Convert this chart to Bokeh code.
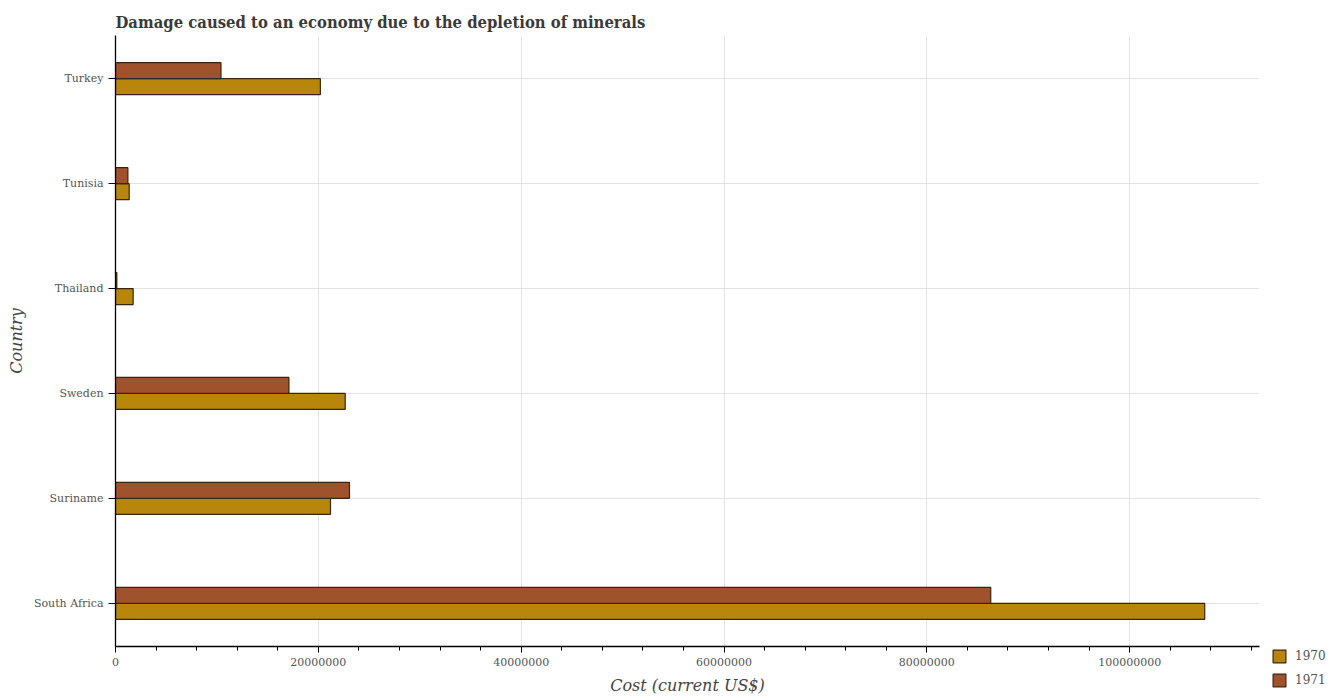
import numpy as np
from bokeh.plotting import figure
from bokeh.models import (ColumnDataSource, Range1d, FixedTicker, SingleIntervalTicker,
                          BasicTickFormatter, Legend, LegendItem)
from bokeh.transform import dodge
from bokeh.embed import file_html
from bokeh.resources import INLINE

# ---- data ----
countries = ["South Africa", "Suriname", "Sweden", "Thailand", "Tunisia", "Turkey"]
cost_1970 = [107.4e6, 21.2e6, 22.65e6, 1.74e6, 1.35e6, 20.2e6]
cost_1971 = [86.3e6, 23.07e6, 17.1e6, 0.13e6, 1.22e6, 10.4e6]
series_names = ["1970", "1971"]
series_colors = ["#b8860b", "#a0522d"]

src = ColumnDataSource(dict(idx=list(range(len(countries))), country=countries,
                            v1970=cost_1970, v1971=cost_1971))

FONT = "DejaVu Serif"

p = figure(frame_width=1144, frame_height=611, output_backend="svg", toolbar_location=None,
           x_range=Range1d(0, 112.8e6), y_range=Range1d(-0.412, len(countries) - 1 + 0.412),
           min_border_left=115, min_border_right=60, min_border_top=35, min_border_bottom=52)

bar_h = 0.1525
r70 = p.hbar(y=dodge("idx", -bar_h / 2, range=p.y_range), right="v1970", left=0, height=bar_h,
             source=src, fill_color=series_colors[0], line_color="#3a2610", line_width=1.2)
r71 = p.hbar(y=dodge("idx", bar_h / 2, range=p.y_range), right="v1971", left=0, height=bar_h,
             source=src, fill_color=series_colors[1], line_color="#3a2610", line_width=1.2)

# title
p.title.text = "Damage caused to an economy due to the depletion of minerals"
p.title.text_font = "DejaVu Serif Condensed"
p.title.text_font_style = "bold"
p.title.text_font_size = "16.5px"
p.title.text_color = "#3a3a3a"
p.title.offset = 0
p.title.standoff = 7

p.outline_line_color = None
p.background_fill_color = "white"

# x axis
xa = p.xaxis[0]
xa.ticker = SingleIntervalTicker(interval=20e6, num_minor_ticks=5)
xa.formatter = BasicTickFormatter(use_scientific=False)
xa.axis_label = "Cost (current US$)"
xa.axis_label_text_font = FONT
xa.axis_label_text_font_style = "italic"
xa.axis_label_text_font_size = "16px"
xa.axis_label_text_color = "#444444"
xa.axis_label_standoff = 7
xa.major_label_text_font = FONT
xa.major_label_text_font_size = "11px"
xa.major_label_text_color = "#555555"
xa.major_tick_in = 0
xa.major_tick_out = 6
xa.minor_tick_in = 0
xa.minor_tick_out = 4
xa.axis_line_color = "black"
xa.axis_line_width = 1.3

# y axis
ya = p.yaxis[0]
ya.ticker = FixedTicker(ticks=list(range(len(countries))))
ya.major_label_overrides = {i: c for i, c in enumerate(countries)}
ya.axis_label = "Country"
ya.axis_label_text_font = FONT
ya.axis_label_text_font_style = "italic"
ya.axis_label_text_font_size = "16px"
ya.axis_label_text_color = "#444444"
ya.major_label_text_font = FONT
ya.major_label_text_font_size = "11px"
ya.major_label_text_color = "#555555"
ya.major_tick_in = 0
ya.major_tick_out = 7
ya.minor_tick_line_color = None
ya.axis_line_color = "black"
ya.axis_line_width = 1.3

p.xgrid.grid_line_color = "#e3e3e3"
p.ygrid.grid_line_color = "#e3e3e3"
p.xgrid.ticker = xa.ticker
p.ygrid.ticker = ya.ticker

legend = Legend(items=[LegendItem(label=series_names[0], renderers=[r70]),
                       LegendItem(label=series_names[1], renderers=[r71])],
                location=(12, -42), orientation="vertical",
                padding=0, margin=0, spacing=8, glyph_width=16, glyph_height=16,
                label_standoff=8, label_text_font=FONT, label_text_font_size="12px",
                label_text_color="#555555", border_line_alpha=0, background_fill_alpha=0)
p.add_layout(legend, "right")

open("out.html", "w").write(file_html(p, INLINE))
